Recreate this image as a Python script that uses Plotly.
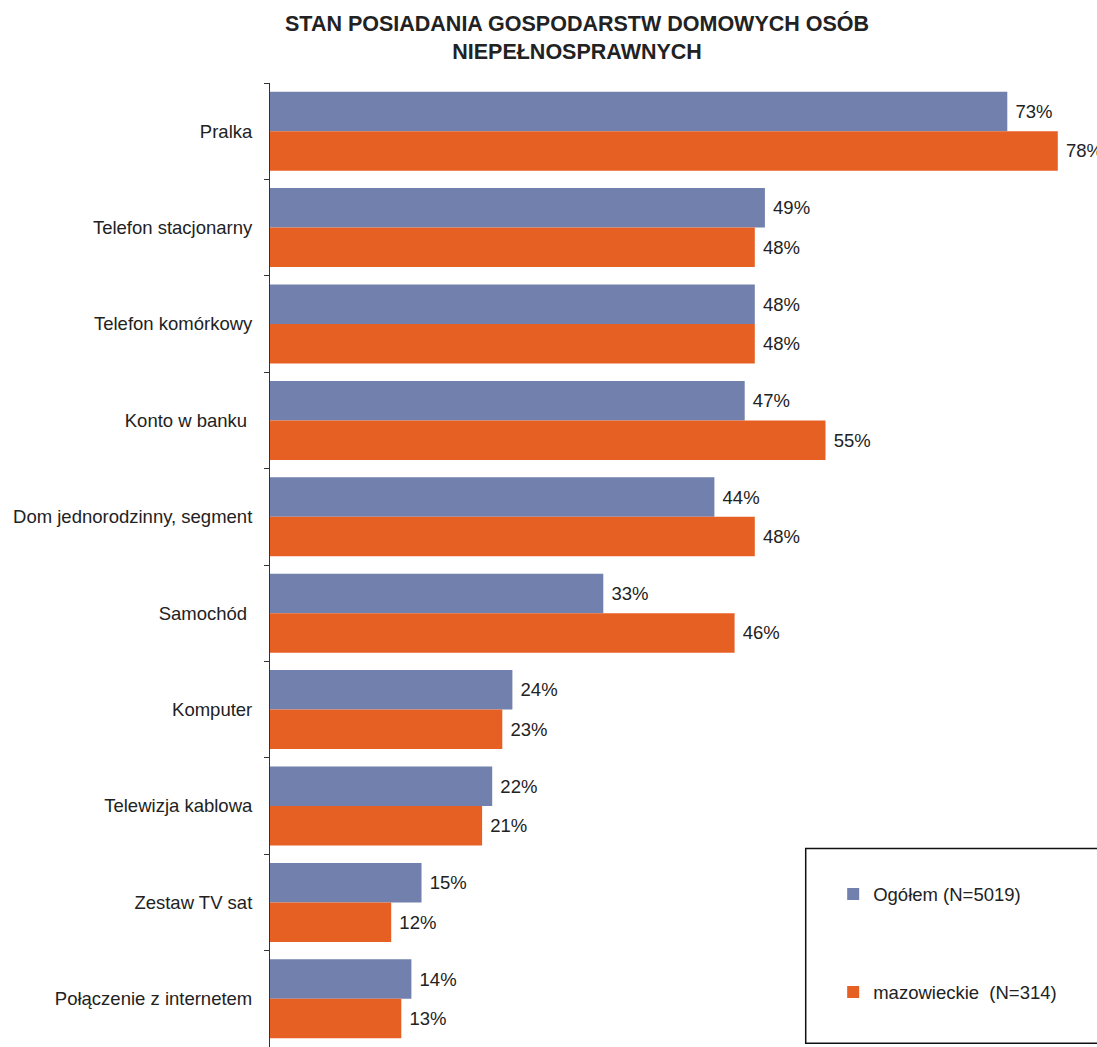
import plotly.graph_objects as go

# categories and values (%)
categories = ["Pralka", "Telefon stacjonarny", "Telefon komórkowy", "Konto w banku ",
              "Dom jednorodzinny, segment", "Samochód ", "Komputer", "Telewizja kablowa",
              "Zestaw TV sat", "Połączenie z internetem"]
ogolem = [73, 49, 48, 47, 44, 33, 24, 22, 15, 14]
mazowieckie = [78, 48, 48, 55, 48, 46, 23, 21, 12, 13]

fig = go.Figure()

fig.add_trace(go.Bar(
    y=categories, x=ogolem, orientation='h', name="Ogółem (N=5019)",
    marker_color="#7180AC", legendgroup="a",
    text=[f" {v}%" for v in ogolem], textposition='outside', cliponaxis=False,
))
fig.add_trace(go.Bar(
    y=categories, x=mazowieckie, orientation='h', name="mazowieckie  (N=314)",
    marker_color="#E66024", legendgroup="b",
    text=[f" {v}%" for v in mazowieckie], textposition='outside', cliponaxis=False,
))

fig.update_traces(textfont=dict(size=18.5, color="#222222"), marker_line_width=0)

# legend frame
fig.add_shape(type="rect", xref="paper", yref="paper",
              x0=0.663, x1=1.1, y0=0.004, y1=0.206, opacity=1, layer='above',
              line=dict(color="#111111", width=1.5), fillcolor="rgba(0,0,0,0)")

# title as annotation so both lines stay inside the page
fig.add_annotation(text="<b>STAN POSIADANIA GOSPODARSTW DOMOWYCH OSÓB<br>NIEPEŁNOSPRAWNYCH</b>",
                   xref="paper", yref="paper", x=0.38, y=1.077, xanchor='center', yanchor='top',
                   showarrow=False, font=dict(size=21.5, color="#222222"))

fig.update_layout(
    width=1097, height=1047,
    template='simple_white',
    font=dict(family="Liberation Sans, Arial, sans-serif", size=18.5, color="#222222"),
    margin=dict(l=270, r=19, t=83, b=0, autoexpand=False),
    barmode='group', bargap=0.18, bargroupgap=0,
    showlegend=True,
    xaxis=dict(visible=False, range=[0, 80], automargin=False),
    yaxis=dict(autorange='reversed', showline=True, linecolor="#333333", linewidth=1,
               ticks='outside', tickson='boundaries', ticklen=5, tickcolor="#333333",
               ticklabelstandoff=13, tickfont=dict(size=18.5), automargin=False),
    legend=dict(x=0.697, y=0.178, xanchor='left', yanchor='top', tracegroupgap=71,
                traceorder='grouped', font=dict(size=18.5), bgcolor='rgba(0,0,0,0)'),
)

# drop the default page margin so the figure sits at the window corner
fig.write_html("out.html", config={'displayModeBar': False},
               post_script="document.body.style.margin='0';")
